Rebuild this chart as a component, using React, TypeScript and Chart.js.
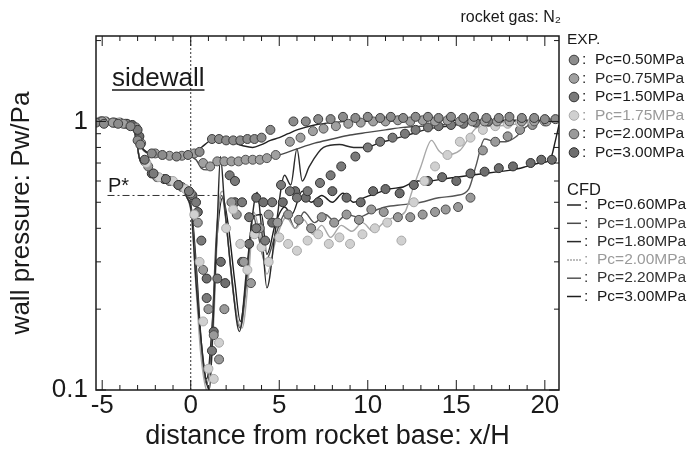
import React, { useEffect, useRef } from "react";
import { Chart, registerables } from "chart.js";

Chart.register(...registerables);

const FONT = '"Liberation Sans", Arial, Helvetica, sans-serif';

// ---- axes ----
const X_MIN = -5.35;
const X_MAX = 20.8;
const Y_MIN = 0.1;
const Y_MAX = 2.08;
const X_TICKS = [-5, 0, 5, 10, 15, 20];
const Y_TICKS = [0.1, 1];
const Y_MINOR = [0.2, 0.3, 0.4, 0.5, 0.6, 0.7, 0.8, 0.9, 2];
const P_STAR = 0.53;
const P_STAR_X = [-4.7, 1.5];

// ---- legend labels ----
const expLabels = ["Pc=0.50MPa", "Pc=0.75MPa", "Pc=1.50MPa", "Pc=1.75MPa", "Pc=2.00MPa", "Pc=3.00MPa"];
const cfdLabels = ["Pc=0.60MPa", "Pc=1.00MPa", "Pc=1.80MPa", "Pc=2.00MPa", "Pc=2.20MPa", "Pc=3.00MPa"];

// ---- EXP data ----
const exp050X = [-5.35, -4.9, -4.1, -3.4, -3.0, -2.85, -2.2, -1.6, -0.8, -0.15, 0.5, 1.2, 1.6, 2.0, 2.4, 2.8, 3.2, 3.6, 4.0, 4.5, 5.8, 6.5, 7.2, 7.9, 8.6, 9.3, 10.0, 10.7, 11.3, 12.0, 12.7, 13.4, 14.0, 14.7, 15.4, 16.0, 16.7, 17.4, 18.0, 18.7, 19.4, 20.0, 20.6];
const exp050Y = [0.99, 0.98, 0.98, 0.96, 0.85, 0.82, 0.76, 0.75, 0.74, 0.75, 0.77, 0.86, 0.86, 0.85, 0.85, 0.85, 0.86, 0.86, 0.87, 0.93, 1.0, 1.0, 1.02, 1.02, 1.04, 1.03, 1.04, 1.03, 1.04, 1.03, 1.04, 1.04, 1.03, 1.04, 1.03, 1.04, 1.03, 1.03, 1.04, 1.03, 1.03, 1.02, 1.02];
const exp075X = [-5.0, -4.4, -3.8, -2.8, -2.0, -1.2, -0.5, 0.2, 0.7, 1.1, 1.5, 1.9, 2.3, 2.7, 3.1, 3.5, 3.9, 4.3, 4.8, 5.6, 6.2, 6.9, 7.5, 8.2, 8.9, 9.6, 10.3, 11.0, 11.7, 12.4, 13.1, 13.8, 14.5, 15.2, 15.9, 16.6, 17.3, 18.0, 18.7, 19.4, 20.1];
const exp075Y = [1.0, 0.99, 0.98, 0.83, 0.76, 0.745, 0.745, 0.76, 0.7, 0.68, 0.71, 0.71, 0.71, 0.71, 0.72, 0.72, 0.72, 0.73, 0.75, 0.84, 0.87, 0.92, 0.94, 0.96, 0.98, 0.99, 1.0, 1.0, 1.01, 1.0, 1.01, 1.0, 1.01, 1.0, 1.0, 1.0, 1.0, 1.0, 1.0, 1.0, 1.0];
const exp150X = [-5.0, -4.3, -3.6, -3.0, -2.6, -2.1, -1.4, -0.7, -0.1, 0.3, 0.6, 0.9, 1.2, 1.5, 2.2, 2.5, 2.9, 3.3, 3.7, 4.2, 4.6, 5.1, 5.6, 6.0, 6.6, 7.3, 7.9, 8.5, 9.3, 10.0, 10.7, 11.4, 12.1, 12.7, 13.4, 14.0, 14.7, 15.4, 16.1, 16.8];
const exp150Y = [1.0, 0.99, 0.98, 0.93, 0.72, 0.64, 0.61, 0.58, 0.55, 0.5, 0.36, 0.22, 0.14, 0.26, 0.63, 0.6, 0.5, 0.44, 0.4, 0.36, 0.5, 0.58, 0.55, 0.52, 0.55, 0.59, 0.63, 0.68, 0.74, 0.8, 0.84, 0.87, 0.9, 0.93, 0.95, 0.96, 0.97, 0.98, 0.99, 1.0];
const exp175X = [-4.9, -4.1, -3.5, -2.5, -1.8, -1.0, -0.3, 0.2, 0.5, 0.7, 1.0, 1.3, 1.6, 2.0, 2.4, 2.8, 3.2, 3.6, 4.0, 4.4, 5.0, 5.5, 6.0, 6.6, 7.2, 7.8, 8.4, 9.0, 9.7, 10.4, 11.1, 11.9, 12.6, 13.2, 13.8, 14.5, 15.2, 15.8, 16.5, 17.2, 17.9, 18.6, 19.3, 20.0];
const exp175Y = [1.0, 0.99, 0.97, 0.7, 0.62, 0.6, 0.56, 0.45, 0.3, 0.18, 0.12, 0.11, 0.15, 0.4, 0.47, 0.35, 0.28, 0.38, 0.34, 0.3, 0.37, 0.35, 0.33, 0.36, 0.38, 0.35, 0.37, 0.35, 0.38, 0.4, 0.42, 0.36, 0.5, 0.6, 0.68, 0.75, 0.84, 0.87, 0.93, 0.96, 0.98, 0.99, 1.0, 1.01];
const exp200X = [-5.1, -4.4, -3.7, -3.1, -2.4, -1.9, -1.2, -0.5, 0.0, 0.4, 0.7, 1.0, 1.3, 1.6, 1.9, 2.3, 2.6, 3.0, 3.4, 3.9, 4.4, 4.9, 5.5, 6.1, 6.8, 7.4, 8.1, 8.8, 9.5, 10.2, 10.9, 11.7, 12.4, 13.1, 13.8, 14.4, 15.1, 15.8, 16.5, 17.2, 17.9, 18.6, 19.3, 20.0];
const exp200Y = [1.0, 0.99, 0.98, 0.95, 0.68, 0.62, 0.6, 0.57, 0.54, 0.42, 0.28, 0.2, 0.16, 0.13, 0.2, 0.5, 0.45, 0.3, 0.25, 0.4, 0.45, 0.42, 0.45, 0.43, 0.4, 0.44, 0.42, 0.45, 0.43, 0.47, 0.46, 0.44, 0.44, 0.45, 0.46, 0.47, 0.48, 0.52, 0.78, 0.84, 0.88, 0.93, 0.97, 1.0];
const exp300X = [-4.8, -4.0, -3.3, -2.9, -2.2, -1.5, -0.7, 0.1, 0.4, 0.9, 1.3, 1.7, 1.95, 2.5, 2.9, 3.3, 3.7, 4.1, 4.6, 5.2, 5.9, 6.5, 7.2, 8.0, 8.8, 9.6, 10.3, 11.0, 11.8, 12.6, 13.4, 14.2, 15.0, 15.8, 16.6, 17.4, 18.2, 19.2, 19.8, 20.4];
const exp300Y = [1.0, 0.99, 0.97, 0.88, 0.64, 0.61, 0.58, 0.53, 0.46, 0.26, 0.165, 0.3, 0.25, 0.5, 0.3, 0.35, 0.52, 0.5, 0.42, 0.5, 0.55, 0.52, 0.5, 0.55, 0.52, 0.5, 0.55, 0.56, 0.54, 0.58, 0.6, 0.62, 0.6, 0.64, 0.65, 0.67, 0.68, 0.7, 0.72, 0.72];

// ---- CFD data ----
const cfd060X = [-5.35, -4.5, -3.8, -3.4, -3.1, -2.8, -2.5, -2.1, -1.5, -1.0, -0.5, -0.1, 0.2, 0.6, 1.0, 1.5, 2.0, 2.5, 3.0, 3.5, 4.0, 4.5, 5.0, 5.5, 6.0, 7.0, 8.0, 9.0, 10.0, 11.0, 12.0, 14.0, 16.0, 18.0, 20.0, 20.8];
const cfd060Y = [1.0, 1.0, 0.99, 0.97, 0.9, 0.81, 0.77, 0.755, 0.75, 0.745, 0.745, 0.75, 0.77, 0.8, 0.84, 0.87, 0.86, 0.83, 0.81, 0.8, 0.82, 0.85, 0.87, 0.9, 0.93, 0.97, 0.99, 1.0, 1.0, 1.0, 1.01, 1.01, 1.01, 1.01, 1.01, 1.0];
const cfd100X = [-5.35, -4.5, -3.8, -3.4, -3.1, -2.8, -2.5, -2.1, -1.5, -1.0, -0.5, -0.1, 0.3, 0.6, 0.9, 1.2, 1.6, 2.0, 3.0, 4.0, 5.0, 6.0, 7.0, 8.0, 9.0, 10.0, 11.0, 12.0, 13.0, 14.0, 15.0, 16.0, 17.0, 18.0, 19.0, 20.8];
const cfd100Y = [1.0, 1.0, 0.99, 0.97, 0.9, 0.8, 0.765, 0.75, 0.745, 0.74, 0.74, 0.74, 0.72, 0.67, 0.66, 0.69, 0.71, 0.71, 0.71, 0.72, 0.75, 0.79, 0.83, 0.86, 0.89, 0.91, 0.93, 0.95, 0.96, 0.97, 0.98, 0.99, 0.99, 1.0, 1.0, 1.0];
const cfd180X = [-5.35, -4.5, -3.8, -3.4, -3.1, -2.9, -2.6, -2.2, -1.6, -1.0, -0.5, -0.2, 0.05, 0.3, 0.6, 0.85, 1.05, 1.3, 1.5, 1.68, 1.9, 2.3, 2.75, 3.2, 3.75, 4.0, 4.3, 4.8, 5.3, 5.65, 6.0, 6.3, 6.7, 7.5, 8.4, 9.2, 9.9, 10.6, 11.5, 12.5, 13.5, 14.5, 15.5, 17.0, 19.0, 20.8];
const cfd180Y = [1.0, 1.0, 0.99, 0.97, 0.88, 0.73, 0.68, 0.65, 0.62, 0.59, 0.56, 0.52, 0.45, 0.25, 0.15, 0.11, 0.1, 0.2, 0.42, 0.74, 0.5, 0.27, 0.165, 0.3, 0.545, 0.4, 0.24, 0.4, 0.63, 0.58, 0.79, 0.6, 0.68, 0.8, 0.82, 0.8, 0.8, 0.83, 0.86, 0.9, 0.94, 0.96, 0.98, 1.0, 1.0, 1.0];
const cfd200X = [-5.35, -4.5, -3.8, -3.4, -3.1, -2.9, -2.6, -2.2, -1.6, -1.0, -0.5, -0.2, 0.05, 0.3, 0.55, 0.8, 1.0, 1.3, 1.6, 1.8, 2.1, 2.6, 2.9, 3.3, 3.55, 3.9, 4.3, 4.8, 5.4, 5.9, 6.4, 6.9, 7.4, 7.9, 8.5, 9.1, 9.7, 10.3, 10.9, 11.5, 12.1, 12.5, 13.0, 13.6, 14.0, 14.4, 15.2, 16.2, 17.0, 18.0, 19.0, 20.8];
const cfd200Y = [1.0, 1.0, 0.99, 0.97, 0.88, 0.73, 0.68, 0.65, 0.62, 0.59, 0.56, 0.52, 0.44, 0.24, 0.14, 0.105, 0.098, 0.18, 0.5, 0.55, 0.36, 0.19, 0.17, 0.28, 0.46, 0.38, 0.27, 0.36, 0.44, 0.4, 0.43, 0.38, 0.41, 0.37, 0.41, 0.39, 0.42, 0.39, 0.42, 0.44, 0.46, 0.55, 0.68, 0.85, 0.78, 0.75, 0.78, 0.95, 0.96, 0.97, 0.99, 1.0];
const cfd220X = [-5.35, -4.5, -3.8, -3.4, -3.1, -2.9, -2.6, -2.2, -1.6, -1.0, -0.5, -0.2, 0.05, 0.3, 0.6, 0.9, 1.15, 1.45, 1.75, 2.0, 2.4, 2.8, 3.2, 3.5, 3.8, 4.2, 4.8, 5.4, 5.9, 6.4, 7.0, 7.6, 8.2, 8.8, 9.5, 10.2, 11.0, 12.0, 13.0, 14.0, 15.0, 15.7, 16.1, 16.6, 17.2, 17.8, 18.4, 18.9, 19.6, 20.8];
const cfd220Y = [1.0, 1.0, 0.99, 0.97, 0.88, 0.73, 0.68, 0.65, 0.62, 0.59, 0.56, 0.52, 0.46, 0.28, 0.14, 0.105, 0.14, 0.38, 0.53, 0.42, 0.23, 0.17, 0.27, 0.45, 0.38, 0.3, 0.38, 0.46, 0.4, 0.46, 0.42, 0.45, 0.42, 0.45, 0.44, 0.46, 0.48, 0.49, 0.5, 0.52, 0.53, 0.56, 0.68, 0.86, 0.84, 0.84, 0.88, 0.95, 1.0, 1.0];
const cfd300X = [-5.35, -4.5, -3.8, -3.4, -3.1, -2.9, -2.6, -2.2, -1.6, -1.0, -0.5, -0.2, 0.05, 0.3, 0.6, 0.9, 1.2, 1.5, 1.8, 2.1, 2.5, 2.8, 3.2, 3.5, 4.0, 4.3, 4.8, 5.3, 5.7, 6.3, 6.8, 7.4, 8.0, 8.6, 9.2, 9.8, 10.5, 11.2, 12.0, 12.8, 13.5, 14.2, 15.0, 15.8, 16.6, 17.4, 18.2, 19.0, 19.7, 20.3, 20.6, 20.8];
const cfd300Y = [1.0, 1.0, 0.99, 0.97, 0.88, 0.73, 0.68, 0.65, 0.62, 0.59, 0.56, 0.52, 0.47, 0.3, 0.15, 0.11, 0.17, 0.38, 0.52, 0.42, 0.25, 0.18, 0.28, 0.44, 0.45, 0.32, 0.42, 0.48, 0.45, 0.55, 0.5, 0.53, 0.5, 0.54, 0.5, 0.52, 0.54, 0.56, 0.57, 0.6, 0.6, 0.61, 0.62, 0.63, 0.64, 0.65, 0.66, 0.68, 0.7, 0.72, 0.85, 0.97];

// ---- styles ----
const EXP_FILL = ["#8c8c8c", "#a0a0a0", "#7a7a7a", "#d0d0d0", "#9a9a9a", "#6e6e6e"];
const EXP_EDGE = ["#3c3c3c", "#505050", "#333333", "#a8a8a8", "#4c4c4c", "#2c2c2c"];
const EXP_TEXT = ["#1a1a1a", "#2a2a2a", "#1a1a1a", "#9a9a9a", "#222222", "#1a1a1a"];
const CFD_COLOR = ["#222222", "#4a4a4a", "#2a2a2a", "#a8a8a8", "#555555", "#1e1e1e"];
const CFD_TEXT = ["#1a1a1a", "#3a3a3a", "#2a2a2a", "#9a9a9a", "#333333", "#1a1a1a"];
const CFD_DASH: number[][] = [[], [], [], [2, 1], [], []];

const expX = [exp050X, exp075X, exp150X, exp175X, exp200X, exp300X];
const expY = [exp050Y, exp075Y, exp150Y, exp175Y, exp200Y, exp300Y];
const cfdX = [cfd060X, cfd100X, cfd180X, cfd200X, cfd220X, cfd300X];
const cfdY = [cfd060Y, cfd100Y, cfd180Y, cfd200Y, cfd220Y, cfd300Y];

function zip(xs: number[], ys: number[]) {
  return xs.map((x, i) => ({ x, y: ys[i] }));
}

const decor = {
  id: "decor",
  beforeDatasetsDraw(chart: any) {
    const { ctx, chartArea: a, scales } = chart;
    const xs = scales.x;
    const ys = scales.y;
    ctx.save();
    ctx.beginPath();
    ctx.rect(a.left, a.top, a.right - a.left, a.bottom - a.top);
    ctx.clip();
    ctx.strokeStyle = "#333";
    ctx.lineWidth = 1;
    ctx.setLineDash([2, 2]);
    const x0 = xs.getPixelForValue(0);
    ctx.beginPath();
    ctx.moveTo(x0, a.top);
    ctx.lineTo(x0, a.bottom);
    ctx.stroke();
    ctx.setLineDash([7, 3, 2, 3]);
    const yp = ys.getPixelForValue(P_STAR);
    ctx.beginPath();
    ctx.moveTo(xs.getPixelForValue(P_STAR_X[0]), yp);
    ctx.lineTo(xs.getPixelForValue(P_STAR_X[1]), yp);
    ctx.stroke();
    ctx.restore();
  },
  afterDraw(chart: any) {
    const { ctx, chartArea: a, scales } = chart;
    const xs = scales.x;
    const ys = scales.y;
    ctx.save();
    // frame
    ctx.strokeStyle = "#1a1a1a";
    ctx.lineWidth = 1.5;
    ctx.setLineDash([]);
    ctx.strokeRect(a.left, a.top, a.right - a.left, a.bottom - a.top);
    ctx.lineWidth = 1;
    // x ticks (inward)
    for (let v = -5; v <= 20; v++) {
      const px = xs.getPixelForValue(v);
      const len = v % 5 === 0 ? 10 : 5;
      ctx.beginPath();
      ctx.moveTo(px, a.bottom);
      ctx.lineTo(px, a.bottom - len);
      ctx.moveTo(px, a.top);
      ctx.lineTo(px, a.top + len);
      ctx.stroke();
    }
    // y ticks
    const yAll = [...Y_TICKS.map((v) => [v, 10]), ...Y_MINOR.map((v) => [v, 5])];
    for (const [v, len] of yAll) {
      const py = ys.getPixelForValue(v);
      if (py < a.top - 0.5 || py > a.bottom + 0.5) continue;
      ctx.beginPath();
      ctx.moveTo(a.left, py);
      ctx.lineTo(a.left + len, py);
      ctx.moveTo(a.right, py);
      ctx.lineTo(a.right - len, py);
      ctx.stroke();
    }
    // texts in plot
    ctx.fillStyle = "#1a1a1a";
    ctx.textBaseline = "alphabetic";
    ctx.textAlign = "left";
    ctx.font = `26px ${FONT}`;
    const sw = "sidewall";
    ctx.fillText(sw, 112, 86);
    const sww = ctx.measureText(sw).width;
    ctx.lineWidth = 1.5;
    ctx.beginPath();
    ctx.moveTo(112, 90);
    ctx.lineTo(112 + sww, 90);
    ctx.stroke();
    ctx.font = `20px ${FONT}`;
    ctx.fillText("P*", 108, 192);
    // rocket gas
    ctx.font = `16px ${FONT}`;
    ctx.textAlign = "right";
    ctx.fillText("rocket gas: N\u2082", 561, 22);
    // legend
    ctx.textAlign = "left";
    ctx.textBaseline = "middle";
    ctx.font = `15.5px ${FONT}`;
    ctx.fillStyle = "#1a1a1a";
    ctx.fillText("EXP.", 567, 40);
    for (let i = 0; i < 6; i++) {
      const cy = 60 + i * 18.5;
      ctx.beginPath();
      ctx.arc(574, cy, 4.8, 0, Math.PI * 2);
      ctx.fillStyle = EXP_FILL[i];
      ctx.fill();
      ctx.strokeStyle = EXP_EDGE[i];
      ctx.lineWidth = 1;
      ctx.stroke();
      ctx.fillStyle = EXP_TEXT[i];
      ctx.fillText(":", 582, cy);
      ctx.fillText(expLabels[i], 595, cy);
    }
    ctx.fillStyle = "#1a1a1a";
    ctx.font = `16.5px ${FONT}`;
    ctx.fillText("CFD", 567, 190);
    ctx.font = `15.5px ${FONT}`;
    for (let i = 0; i < 6; i++) {
      const cy = 205 + i * 18.3;
      ctx.strokeStyle = CFD_COLOR[i];
      ctx.lineWidth = 1.5;
      ctx.setLineDash(CFD_DASH[i]);
      ctx.beginPath();
      ctx.moveTo(567, cy);
      ctx.lineTo(581, cy);
      ctx.stroke();
      ctx.setLineDash([]);
      ctx.fillStyle = CFD_TEXT[i];
      ctx.fillText(":", 584, cy);
      ctx.fillText(cfdLabels[i], 597, cy);
    }
    ctx.restore();
  },
};

export default function App() {
  const ref = useRef<HTMLCanvasElement | null>(null);
  useEffect(() => {
    document.body.style.margin = "0";
    const canvas = ref.current;
    if (!canvas) return;
    const datasets: any[] = [];
    for (let i = 0; i < 6; i++) {
      datasets.push({
        label: "CFD " + cfdLabels[i],
        data: zip(cfdX[i], cfdY[i]),
        showLine: true,
        borderColor: CFD_COLOR[i],
        borderWidth: 1.4,
        borderDash: [],
        pointRadius: 0,
        pointHoverRadius: 0,
        cubicInterpolationMode: "monotone",
        order: 10 + i,
      });
    }
    for (let i = 0; i < 6; i++) {
      datasets.push({
        label: "EXP " + expLabels[i],
        data: zip(expX[i], expY[i]),
        showLine: false,
        pointRadius: 4.5,
        pointBackgroundColor: EXP_FILL[i],
        pointBorderColor: EXP_EDGE[i],
        pointBorderWidth: 1,
        order: i,
      });
    }
    const chart = new Chart(canvas, {
      type: "scatter",
      data: { datasets },
      options: {
        responsive: false,
        animation: false,
        layout: { padding: { left: 0, top: 36, right: 141, bottom: 0 } },
        plugins: { legend: { display: false }, tooltip: { enabled: false } },
        scales: {
          x: {
            type: "linear",
            min: X_MIN,
            max: X_MAX,
            grid: { display: false, drawTicks: false },
            border: { display: false },
            afterBuildTicks: (s: any) => {
              s.ticks = X_TICKS.map((v) => ({ value: v }));
            },
            afterFit: (s: any) => {
              s.height = 67;
            },
            ticks: {
              autoSkip: false,
              maxRotation: 0,
              padding: 0,
              color: "#1a1a1a",
              font: { family: FONT, size: 26 },
              callback: (v: any) => String(v),
            },
            title: {
              display: true,
              text: "distance from rocket base: x/H",
              color: "#1a1a1a",
              font: { family: FONT, size: 27 },
              padding: { top: 0, bottom: 4 },
            },
          },
          y: {
            type: "logarithmic",
            min: Y_MIN,
            max: Y_MAX,
            grid: { display: false, drawTicks: false },
            border: { display: false },
            afterBuildTicks: (s: any) => {
              s.ticks = Y_TICKS.map((v) => ({ value: v }));
            },
            afterFit: (s: any) => {
              s.width = 96;
            },
            ticks: {
              autoSkip: false,
              padding: 8,
              color: "#1a1a1a",
              font: { family: FONT, size: 26 },
              callback: (v: any) => String(v),
            },
            title: {
              display: true,
              text: "wall pressure: Pw/Pa",
              color: "#1a1a1a",
              font: { family: FONT, size: 26 },
              padding: { top: 6, bottom: 0 },
            },
          },
        },
      },
      plugins: [decor],
    });
    return () => chart.destroy();
  }, []);
  return (
    <div style={{ position: "absolute", left: 0, top: 0, width: 700, height: 457 }}>
      <canvas ref={ref} width={700} height={457} style={{ width: 700, height: 457, display: "block" }} />
    </div>
  );
}
